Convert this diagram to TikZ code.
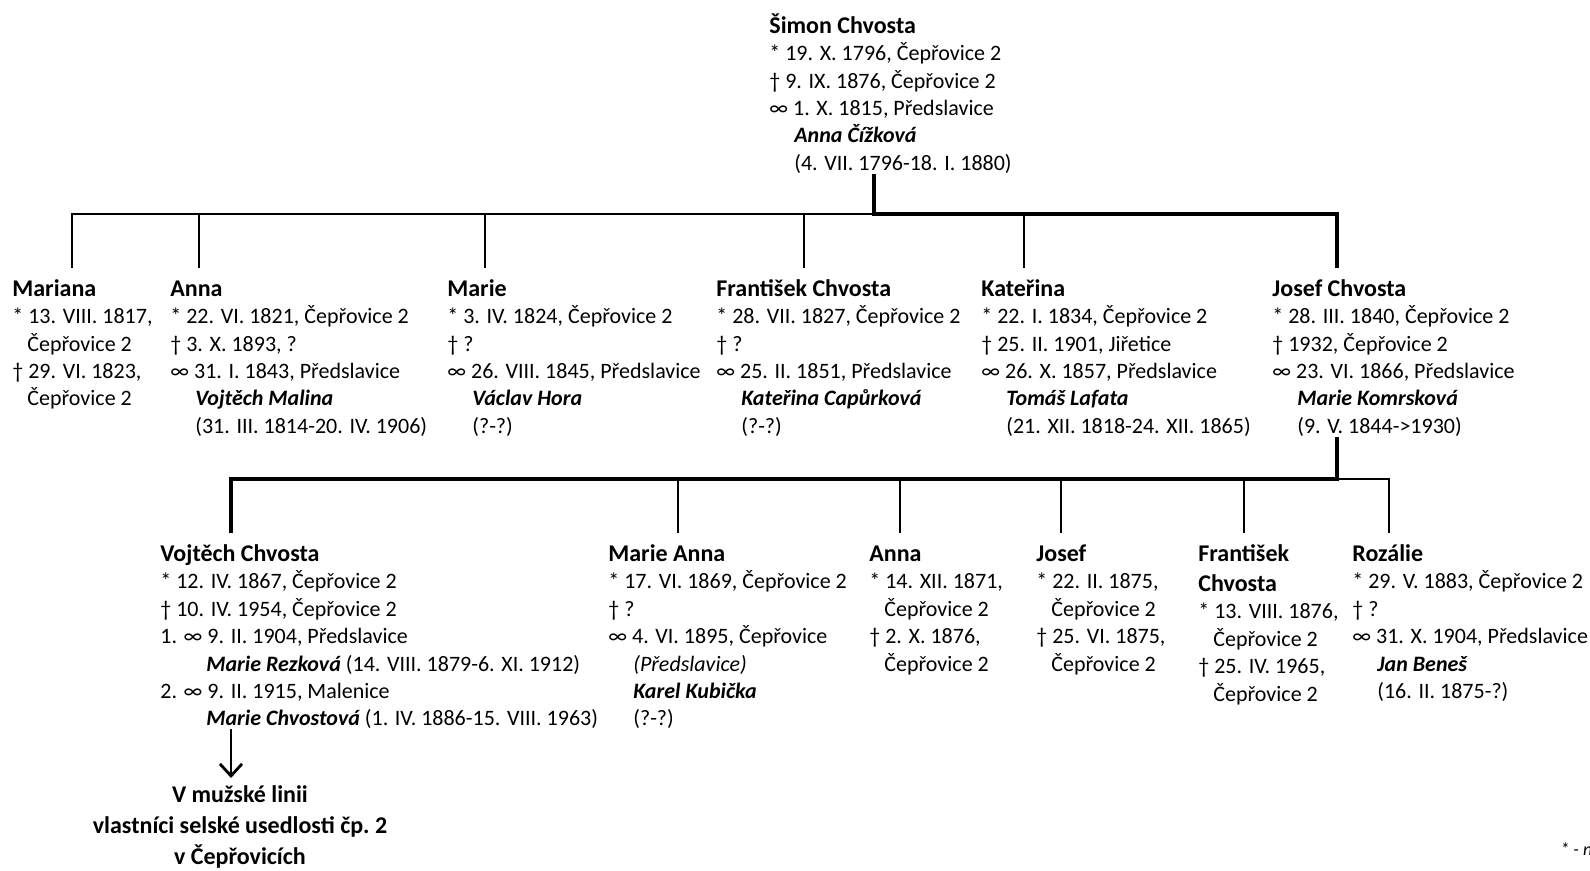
\documentclass[tikz,border=0pt]{standalone}
\usepackage{fontspec}
\setmainfont{Carlito}
\usetikzlibrary{calc,arrows.meta}

\newcommand{\pname}[1]{{\fontsize{12}{13.7}\selectfont\bfseries\rule{0pt}{10pt}#1}}
\newcommand{\spouse}[1]{\textbf{\textit{#1}}}
\newcommand{\cind}{\hspace*{7.5pt}}
\newcommand{\sind}{\hspace*{12.5pt}}

\tikzset{
  person/.style = {anchor=north west, align=left, inner sep=0pt, font=\fontsize{11}{13.7}\selectfont},
  link/.style = {line width=0.85pt},
  mainlink/.style = {line width=2pt},
  owners/.style = {anchor=north, align=center, inner sep=0pt, font=\fontsize{12}{15.5}\selectfont\bfseries},
  descent/.style = {line width=1.4pt, -{Straight Barb[length=6pt,width=11pt]}, shorten >=1pt},
}

\begin{document}
\begin{tikzpicture}[x=0.5pt, y=-0.5pt]
  \useasboundingbox (0,0) rectangle (1590,871);

  \node[person] (simon) at (769,13) {\pname{Šimon Chvosta}\\
    * 19. X. 1796, Čepřovice 2\\† 9. IX. 1876, Čepřovice 2\\∞ 1. X. 1815, Předslavice\\
    \sind\spouse{Anna Čížková}\\\sind(4. VII. 1796-18. I. 1880)};

  \node[person] (mariana) at (12,276) {\pname{Mariana}\\
    * 13. VIII. 1817,\\\cind Čepřovice 2\\† 29. VI. 1823,\\\cind Čepřovice 2};
  \node[person] (anna) at (170,276) {\pname{Anna}\\
    * 22. VI. 1821, Čepřovice 2\\† 3. X. 1893, ?\\∞ 31. I. 1843, Předslavice\\
    \sind\spouse{Vojtěch Malina}\\\sind(31. III. 1814-20. IV. 1906)};
  \node[person] (marie) at (447,276) {\pname{Marie}\\
    * 3. IV. 1824, Čepřovice 2\\† ?\\∞ 26. VIII. 1845, Předslavice\\
    \sind\spouse{Václav Hora}\\\sind(?-?)};
  \node[person] (frantisek) at (716,276) {\pname{František Chvosta}\\
    * 28. VII. 1827, Čepřovice 2\\† ?\\∞ 25. II. 1851, Předslavice\\
    \sind\spouse{Kateřina Capůrková}\\\sind(?-?)};
  \node[person] (katerina) at (981,276) {\pname{Kateřina}\\
    * 22. I. 1834, Čepřovice 2\\† 25. II. 1901, Jiřetice\\∞ 26. X. 1857, Předslavice\\
    \sind\spouse{Tomáš Lafata}\\\sind(21. XII. 1818-24. XII. 1865)};
  \node[person] (josef) at (1272,276) {\pname{Josef Chvosta}\\
    * 28. III. 1840, Čepřovice 2\\† 1932, Čepřovice 2\\∞ 23. VI. 1866, Předslavice\\
    \sind\spouse{Marie Komrsková}\\\sind(9. V. 1844->1930)};

  \node[person] (vojtech) at (160,541) {\pname{Vojtěch Chvosta}\\
    * 12. IV. 1867, Čepřovice 2\\† 10. IV. 1954, Čepřovice 2\\1. ∞ 9. II. 1904, Předslavice\\
    \hspace*{23pt}\spouse{Marie Rezková} (14. VIII. 1879-6. XI. 1912)\\2. ∞ 9. II. 1915, Malenice\\
    \hspace*{23pt}\spouse{Marie Chvostová} (1. IV. 1886-15. VIII. 1963)};
  \node[person] (marieanna) at (608,541) {\pname{Marie Anna}\\
    * 17. VI. 1869, Čepřovice 2\\† ?\\∞ 4. VI. 1895, Čepřovice\\
    \sind\textit{(Předslavice)}\\\sind\spouse{Karel Kubička}\\\sind(?-?)};
  \node[person] (anna2) at (869,541) {\pname{Anna}\\
    * 14. XII. 1871,\\\cind Čepřovice 2\\† 2. X. 1876,\\\cind Čepřovice 2};
  \node[person] (josef2) at (1036,541) {\pname{Josef}\\
    * 22. II. 1875,\\\cind Čepřovice 2\\† 25. VI. 1875,\\\cind Čepřovice 2};
  \node[person] (frantisek2) at (1198,541) {\pname{František}\\[1.3pt]\pname{Chvosta}\\
    * 13. VIII. 1876,\\\cind Čepřovice 2\\† 25. IV. 1965,\\\cind Čepřovice 2};
  \node[person] (rozalie) at (1352,541) {\pname{Rozálie}\\
    * 29. V. 1883, Čepřovice 2\\† ?\\∞ 31. X. 1904, Předslavice\\
    \sind\spouse{Jan Beneš}\\\sind(16. II. 1875-?)};

  \node[owners] (line) at (240,780) {\rule{0pt}{11pt}V mužské linii\\vlastníci selské usedlosti čp.~2\\v Čepřovicích};
  \node[anchor=base west, inner sep=0pt, font=\fontsize{9}{11}\selectfont\itshape] (note) at (1560,855) {* - n};

  \coordinate (bar1) at (874,214);
  \coordinate (bar2) at (1337,479);
  \foreach \x/\n in {72/mariana, 199/anna, 485/marie, 804/frantisek, 1024/katerina, 1337/josef}
    \coordinate (t-\n) at (\x,268);
  \foreach \x/\n in {231/vojtech, 678/marieanna, 900/anna2, 1061/josef2, 1244/frantisek2, 1389/rozalie}
    \coordinate (t-\n) at (\x,533);

  \draw[link] (t-mariana) |- (bar1);
  \foreach \n in {anna, marie, frantisek, katerina}
    \draw[link] (t-\n) -- (t-\n |- bar1);
  \draw[mainlink] (simon.south -| bar1) -- (bar1) -| (t-josef);

  \draw[link] (bar2) -| (t-rozalie);
  \foreach \n in {marieanna, anna2, josef2, frantisek2}
    \draw[link] (t-\n) -- (t-\n |- bar2);
  \draw[mainlink] (josef.south -| bar2) -- (bar2) -| (t-vojtech);

  \draw[descent] (vojtech.south -| t-vojtech) -- (line.north -| t-vojtech);
\end{tikzpicture}
\end{document}
